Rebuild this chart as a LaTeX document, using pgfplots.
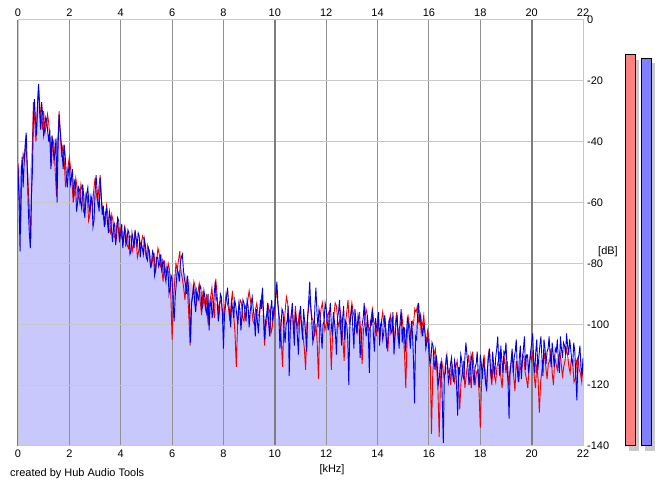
\documentclass[border=0pt]{standalone}
\usepackage{fontspec}
\setmainfont{Liberation Sans}
\usepackage{pgfplots}
\pgfplotsset{compat=1.18}
\usepackage{pgfplotstable}
\definecolor{fillc}{RGB}{200,200,252}
\definecolor{specred}{RGB}{240,0,0}
\definecolor{specblue}{RGB}{0,0,225}
\definecolor{hgrid}{RGB}{200,200,200}
\definecolor{vgrid}{RGB}{145,145,145}
\definecolor{vgridthick}{RGB}{125,125,125}
\definecolor{meterred}{RGB}{255,128,128}
\definecolor{meterblue}{RGB}{128,128,255}
\definecolor{shadowc}{RGB}{200,200,200}

% blue channel, one value every 0.04 kHz from 0 to 22 kHz
\pgfplotstableread[row sep=\\]{
y\\
-48\\ -60\\ -76\\ -52\\ -45\\ -55\\ -47\\ -41\\ -37\\ -48\\ -62\\ -70\\ -75\\ -58\\ -50\\ -32\\ -26\\ -33\\ -38\\ -28\\
-21\\ -30\\ -36\\ -27\\ -31\\ -38\\ -36\\ -32\\ -33\\ -37\\ -40\\ -36\\ -49\\ -38\\ -41\\ -46\\ -44\\ -39\\ -60\\ -42\\
-31\\ -36\\ -40\\ -44\\ -49\\ -41\\ -45\\ -51\\ -55\\ -50\\ -47\\ -54\\ -52\\ -49\\ -58\\ -53\\ -54\\ -63\\ -60\\ -55\\
-56\\ -60\\ -62\\ -54\\ -58\\ -65\\ -60\\ -57\\ -55\\ -61\\ -63\\ -58\\ -59\\ -68\\ -66\\ -57\\ -51\\ -56\\ -60\\ -63\\
-52\\ -58\\ -64\\ -61\\ -68\\ -64\\ -62\\ -66\\ -70\\ -63\\ -65\\ -69\\ -73\\ -68\\ -67\\ -74\\ -71\\ -65\\ -66\\ -72\\
-70\\ -67\\ -75\\ -71\\ -68\\ -74\\ -73\\ -69\\ -70\\ -77\\ -76\\ -70\\ -72\\ -75\\ -69\\ -72\\ -74\\ -70\\ -71\\ -78\\
-73\\ -75\\ -77\\ -72\\ -74\\ -78\\ -79\\ -75\\ -76\\ -81\\ -80\\ -76\\ -77\\ -84\\ -82\\ -78\\ -78\\ -81\\ -80\\ -77\\
-83\\ -79\\ -80\\ -84\\ -86\\ -81\\ -82\\ -90\\ -88\\ -84\\ -85\\ -93\\ -99\\ -91\\ -87\\ -82\\ -83\\ -86\\ -80\\ -78\\
-77\\ -82\\ -85\\ -87\\ -90\\ -84\\ -88\\ -95\\ -106\\ -93\\ -91\\ -87\\ -93\\ -96\\ -89\\ -91\\ -92\\ -87\\ -88\\ -95\\
-94\\ -89\\ -91\\ -95\\ -97\\ -90\\ -102\\ -94\\ -92\\ -98\\ -95\\ -90\\ -86\\ -91\\ -93\\ -99\\ -96\\ -90\\ -91\\ -97\\
-108\\ -97\\ -94\\ -91\\ -88\\ -93\\ -96\\ -101\\ -93\\ -95\\ -98\\ -92\\ -94\\ -97\\ -100\\ -93\\ -95\\ -102\\ -97\\ -92\\
-93\\ -96\\ -99\\ -92\\ -94\\ -101\\ -96\\ -93\\ -91\\ -95\\ -98\\ -104\\ -95\\ -99\\ -103\\ -97\\ -92\\ -95\\ -88\\ -96\\
-105\\ -99\\ -97\\ -93\\ -100\\ -104\\ -95\\ -92\\ -99\\ -96\\ -94\\ -90\\ -86\\ -93\\ -98\\ -108\\ -101\\ -95\\ -96\\ -102\\
-106\\ -100\\ -99\\ -94\\ -117\\ -102\\ -97\\ -93\\ -101\\ -107\\ -96\\ -99\\ -104\\ -110\\ -98\\ -94\\ -100\\ -105\\ -95\\ -99\\
-103\\ -109\\ -97\\ -92\\ -86\\ -95\\ -99\\ -106\\ -104\\ -94\\ -88\\ -96\\ -101\\ -95\\ -97\\ -103\\ -108\\ -100\\ -99\\ -93\\
-95\\ -99\\ -102\\ -97\\ -93\\ -100\\ -104\\ -96\\ -99\\ -103\\ -110\\ -98\\ -96\\ -92\\ -101\\ -107\\ -98\\ -94\\ -105\\ -99\\
-100\\ -105\\ -120\\ -101\\ -97\\ -94\\ -102\\ -108\\ -95\\ -99\\ -103\\ -97\\ -99\\ -111\\ -106\\ -100\\ -98\\ -93\\ -101\\ -104\\
-97\\ -103\\ -116\\ -99\\ -100\\ -95\\ -104\\ -109\\ -98\\ -101\\ -102\\ -96\\ -107\\ -100\\ -99\\ -105\\ -103\\ -97\\ -101\\ -108\\
-105\\ -99\\ -98\\ -103\\ -102\\ -96\\ -110\\ -104\\ -100\\ -97\\ -103\\ -108\\ -99\\ -95\\ -106\\ -101\\ -101\\ -109\\ -104\\ -98\\
-100\\ -104\\ -108\\ -99\\ -103\\ -112\\ -126\\ -104\\ -105\\ -97\\ -93\\ -99\\ -97\\ -101\\ -104\\ -100\\ -102\\ -108\\ -106\\ -104\\
-109\\ -113\\ -111\\ -106\\ -107\\ -112\\ -115\\ -110\\ -113\\ -120\\ -118\\ -114\\ -112\\ -125\\ -139\\ -117\\ -116\\ -110\\ -113\\ -119\\
-117\\ -113\\ -111\\ -116\\ -119\\ -112\\ -114\\ -121\\ -130\\ -114\\ -116\\ -110\\ -112\\ -117\\ -118\\ -111\\ -106\\ -110\\ -114\\ -120\\
-117\\ -110\\ -112\\ -116\\ -120\\ -114\\ -113\\ -109\\ -116\\ -121\\ -110\\ -113\\ -118\\ -112\\ -114\\ -119\\ -121\\ -115\\ -111\\ -108\\
-115\\ -118\\ -109\\ -113\\ -117\\ -111\\ -108\\ -104\\ -113\\ -117\\ -107\\ -112\\ -116\\ -109\\ -110\\ -106\\ -114\\ -119\\ -131\\ -116\\
-112\\ -108\\ -116\\ -111\\ -109\\ -105\\ -114\\ -119\\ -111\\ -107\\ -118\\ -112\\ -108\\ -104\\ -115\\ -110\\ -110\\ -116\\ -113\\ -109\\
-106\\ -103\\ -112\\ -116\\ -109\\ -105\\ -115\\ -111\\ -107\\ -104\\ -111\\ -117\\ -105\\ -108\\ -113\\ -109\\ -108\\ -104\\ -110\\ -114\\
-106\\ -110\\ -114\\ -108\\ -109\\ -105\\ -112\\ -116\\ -104\\ -108\\ -111\\ -106\\ -107\\ -110\\ -103\\ -107\\ -110\\ -105\\ -108\\ -112\\
-113\\ -106\\ -109\\ -117\\ -125\\ -112\\ -110\\ -107\\ -114\\ -117\\ -111\\
}\bluedata

% red channel, one value every 0.05 kHz from 0 to 22 kHz
\pgfplotstableread[row sep=\\]{
y\\
-47\\ -58\\ -70\\ -50\\ -44\\ -46\\ -40\\ -47\\ -55\\ -64\\ -72\\ -45\\ -27\\ -33\\ -40\\ -30\\ -22\\ -28\\ -32\\ -36\\
-30\\ -37\\ -35\\ -31\\ -34\\ -41\\ -48\\ -39\\ -41\\ -50\\ -58\\ -40\\ -30\\ -38\\ -45\\ -41\\ -46\\ -55\\ -52\\ -48\\
-45\\ -49\\ -53\\ -60\\ -57\\ -52\\ -55\\ -58\\ -60\\ -54\\ -56\\ -63\\ -62\\ -57\\ -58\\ -66\\ -64\\ -59\\ -61\\ -56\\
-52\\ -57\\ -60\\ -55\\ -51\\ -59\\ -63\\ -66\\ -67\\ -61\\ -64\\ -69\\ -70\\ -64\\ -66\\ -71\\ -72\\ -67\\ -68\\ -73\\
-69\\ -72\\ -73\\ -68\\ -70\\ -74\\ -75\\ -71\\ -71\\ -76\\ -74\\ -70\\ -72\\ -78\\ -76\\ -73\\ -74\\ -71\\ -72\\ -76\\
-78\\ -74\\ -76\\ -80\\ -81\\ -78\\ -77\\ -83\\ -79\\ -75\\ -77\\ -81\\ -82\\ -86\\ -79\\ -83\\ -84\\ -80\\ -82\\ -90\\
-105\\ -92\\ -86\\ -80\\ -82\\ -79\\ -76\\ -83\\ -85\\ -88\\ -92\\ -86\\ -89\\ -97\\ -107\\ -93\\ -90\\ -86\\ -88\\ -93\\
-90\\ -87\\ -93\\ -97\\ -89\\ -92\\ -95\\ -90\\ -100\\ -94\\ -91\\ -88\\ -94\\ -98\\ -85\\ -90\\ -96\\ -93\\ -92\\ -95\\
-98\\ -94\\ -90\\ -93\\ -95\\ -99\\ -93\\ -89\\ -97\\ -103\\ -114\\ -100\\ -96\\ -92\\ -93\\ -98\\ -99\\ -94\\ -95\\ -92\\
-89\\ -92\\ -95\\ -99\\ -100\\ -95\\ -93\\ -97\\ -97\\ -93\\ -90\\ -96\\ -107\\ -101\\ -98\\ -94\\ -96\\ -103\\ -101\\ -95\\
-97\\ -87\\ -92\\ -96\\ -99\\ -105\\ -114\\ -101\\ -96\\ -91\\ -93\\ -98\\ -100\\ -96\\ -97\\ -103\\ -94\\ -99\\ -101\\ -96\\
-98\\ -101\\ -104\\ -108\\ -115\\ -100\\ -96\\ -92\\ -94\\ -98\\ -99\\ -104\\ -100\\ -106\\ -118\\ -99\\ -95\\ -93\\ -97\\ -102\\
-100\\ -97\\ -96\\ -102\\ -115\\ -103\\ -97\\ -93\\ -94\\ -99\\ -101\\ -96\\ -99\\ -105\\ -112\\ -100\\ -96\\ -92\\ -100\\ -97\\
-93\\ -96\\ -98\\ -101\\ -103\\ -99\\ -96\\ -104\\ -113\\ -102\\ -99\\ -95\\ -97\\ -101\\ -102\\ -98\\ -95\\ -99\\ -100\\ -104\\
-98\\ -101\\ -104\\ -99\\ -96\\ -100\\ -101\\ -106\\ -109\\ -102\\ -97\\ -99\\ -103\\ -107\\ -99\\ -96\\ -105\\ -101\\ -100\\ -97\\
-102\\ -110\\ -121\\ -104\\ -98\\ -101\\ -104\\ -99\\ -100\\ -95\\ -96\\ -94\\ -99\\ -97\\ -103\\ -100\\ -97\\ -103\\ -106\\ -102\\
-104\\ -112\\ -136\\ -116\\ -110\\ -108\\ -114\\ -121\\ -137\\ -118\\ -112\\ -115\\ -118\\ -113\\ -110\\ -116\\ -115\\ -120\\ -113\\ -117\\
-119\\ -114\\ -112\\ -117\\ -128\\ -119\\ -116\\ -112\\ -121\\ -117\\ -113\\ -110\\ -117\\ -121\\ -109\\ -114\\ -120\\ -116\\ -115\\ -122\\
-134\\ -119\\ -114\\ -110\\ -118\\ -122\\ -111\\ -108\\ -116\\ -120\\ -113\\ -117\\ -119\\ -114\\ -112\\ -109\\ -117\\ -121\\ -114\\ -111\\
-116\\ -112\\ -120\\ -116\\ -113\\ -109\\ -117\\ -122\\ -112\\ -115\\ -119\\ -114\\ -115\\ -110\\ -111\\ -116\\ -118\\ -121\\ -114\\ -110\\
-112\\ -109\\ -117\\ -121\\ -113\\ -118\\ -129\\ -119\\ -115\\ -112\\ -110\\ -114\\ -118\\ -113\\ -112\\ -108\\ -116\\ -120\\ -111\\ -113\\
-115\\ -111\\ -109\\ -113\\ -117\\ -114\\ -112\\ -108\\ -110\\ -114\\ -116\\ -111\\ -113\\ -119\\ -118\\ -112\\ -111\\ -115\\ -116\\ -119\\
-113\\
}\reddata

\begin{document}
\begin{tikzpicture}[x=1bp,y=1bp]

\begin{axis}[
  at={(18bp,41bp)}, anchor=south west,
  scale only axis, width=565bp, height=426bp,
  xmin=0, xmax=22, ymin=-140, ymax=0,
  xtick={0,2,...,22},
  xticklabels={0,2,4,6,8,10,12,14,16,18,20,22},
  ytick={0,-20,-40,-60,-80,-100,-120,-140},
  yticklabels={0,-20,-40,-60,-80,-100,-120,-140},
  xticklabel pos=upper, yticklabel pos=right,
  major tick length=0pt,
  tick label style={font=\fontsize{11}{13}\selectfont, inner sep=0pt},
  xticklabel shift=3.5bp, yticklabel shift=4bp,
  xmajorgrids, ymajorgrids,
  x grid style={vgrid, line width=1bp},
  y grid style={hgrid, line width=1bp},
  axis line style={hgrid, line width=1bp},
  extra x ticks={0,10,20}, extra x tick labels={},
  extra x tick style={xmajorgrids=true, x grid style={vgridthick, line width=2bp}},
  set layers,
]
\addplot[on layer=axis background, fill=fillc, draw=none] coordinates {
(0,-50) (0.15,-47) (0.3,-44) (0.45,-52) (0.6,-33) (0.8,-28) (1.0,-35) (1.3,-40) (1.6,-38) (1.8,-47) (2.0,-50) (2.5,-57) (3.0,-57) (3.5,-65) (4.0,-69) (4.5,-72) (5.0,-76) (5.5,-79) (6.0,-84) (6.4,-82) (7.0,-90) (7.5,-92) (8.0,-95) (9.0,-96) (10,-98) (11,-99) (12,-100) (13,-101) (14,-102) (15,-102) (15.6,-99) (16,-108) (16.4,-113) (17,-115) (18,-115) (19,-114) (20,-112) (21,-111) (22,-112) (22,-140) (0,-140)
};
\addplot[specred, line width=0.9bp] table[x expr=\coordindex*0.05, y=y] {\reddata};
\addplot[specblue, line width=0.9bp] table[x expr=\coordindex*0.04, y=y] {\bluedata};
\end{axis}

% bottom tick labels
\begin{axis}[
  at={(18bp,41bp)}, anchor=south west,
  scale only axis, width=565bp, height=426bp,
  xmin=0, xmax=22, ymin=-140, ymax=0,
  xtick={0,2,...,22},
  xticklabels={0,2,4,6,8,10,12,14,16,18,20,22},
  ytick=\empty,
  xticklabel pos=lower,
  major tick length=0pt,
  tick label style={font=\fontsize{11}{13}\selectfont, inner sep=0pt},
  xticklabel shift=3.5bp,
  axis line style={draw=none},
]
\end{axis}

% level meters
\begin{axis}[
  at={(620bp,41bp)}, anchor=south west,
  scale only axis, width=40bp, height=426bp,
  xmin=0, xmax=40, ymin=0, ymax=140,
  hide axis, clip=false,
]
\addplot[fill=shadowc, draw=none] coordinates {(9,-1.64) (19,-1.64) (19,126.85) (9,126.85)};
\addplot[fill=shadowc, draw=none] coordinates {(25,-1.64) (35,-1.64) (35,125.85) (25,125.85)};
\addplot[fill=meterred, draw=black, line width=1bp] coordinates {(5,0) (15,0) (15,128.5) (5,128.5) (5,0)};
\addplot[fill=meterblue, draw=black, line width=1bp] coordinates {(21,0) (31,0) (31,127.5) (21,127.5) (21,0)};
\end{axis}

\node[font=\fontsize{11}{13}\selectfont, inner sep=0pt] at (332,17) {[kHz]};
\node[font=\fontsize{11}{13}\selectfont, inner sep=0pt, anchor=west] at (598,235) {[dB]};
\node[font=\fontsize{11}{13}\selectfont, inner sep=0pt, anchor=west] at (10,13) {created by Hub Audio Tools};
\pgfresetboundingbox
\useasboundingbox (0,0) rectangle (665,487);
\end{tikzpicture}
\end{document}
